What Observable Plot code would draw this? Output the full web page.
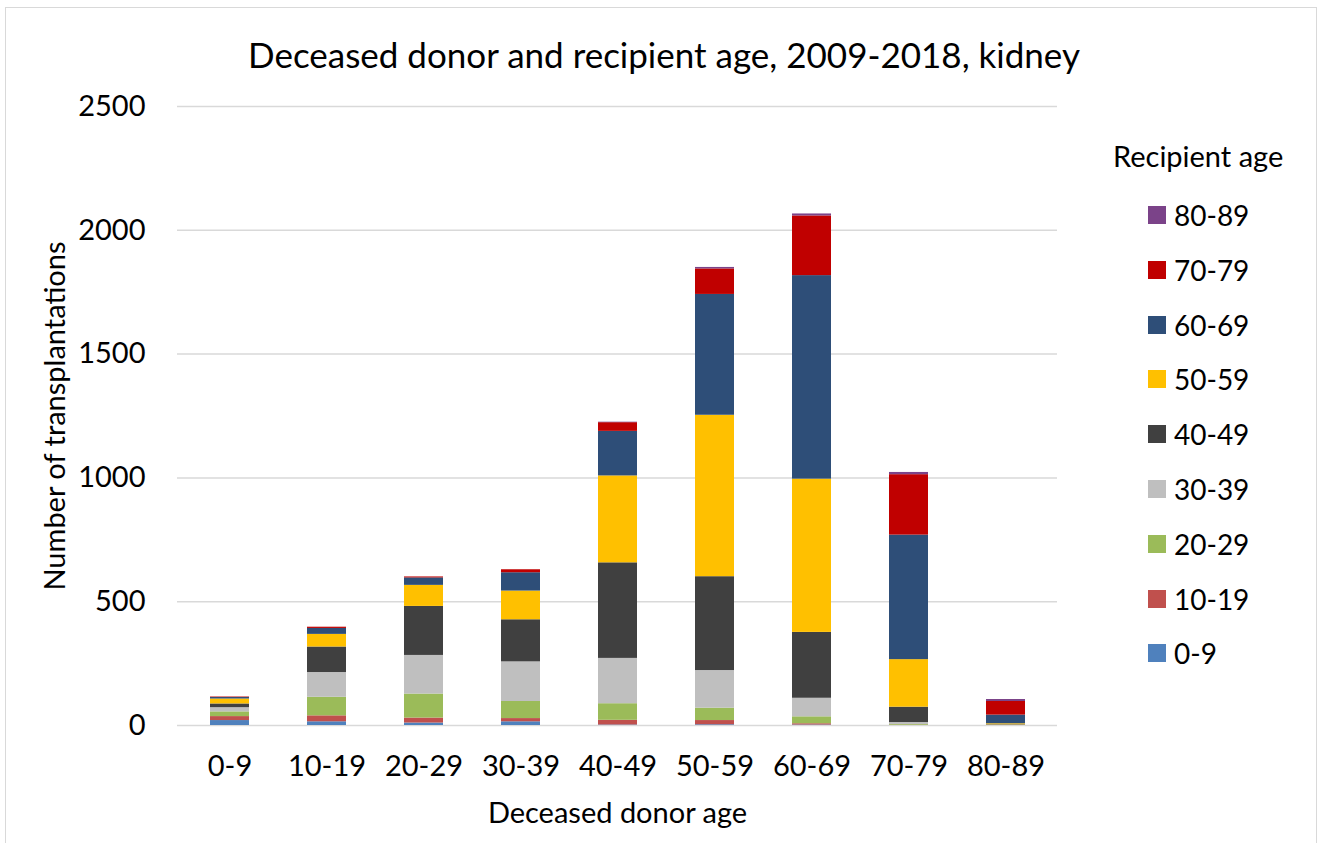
<!DOCTYPE html>
<html>
<head>
<meta charset="utf-8">
<script src="https://cdn.jsdelivr.net/npm/d3@7"></script>
<script src="https://cdn.jsdelivr.net/npm/@observablehq/plot@0.6"></script>
<style>
  html, body { margin: 0; padding: 0; background: #fff; }
  #wrap { position: relative; width: 1328px; height: 843px; font-family: Lato, "Open Sans", sans-serif; color: #000; }
  #frame { position: absolute; left: 5px; top: 7px; width: 1312px; height: 845px; border: 1.5px solid #d9d9d9; box-sizing: border-box; pointer-events: none; }
  #title { position: absolute; left: 0; width: 1328px; top: 34px; text-align: center; font-size: 35px; line-height: 40px; }
  #legend { position: absolute; left: 1100px; top: 138px; }
  #legend .lt { font-size: 29px; position: absolute; left: 13px; top: 0; white-space: nowrap; }
  #legend .item { position: absolute; left: 48px; font-size: 28px; white-space: nowrap; display: flex; align-items: center; height: 30px; }
  #legend .sw { width: 18px; height: 18px; margin-right: 8px; display: inline-block; }
  svg text { font-family: Lato, "Open Sans", sans-serif; }
</style>
</head>
<body>
<div id="wrap">
  <div id="frame"></div>
  <div id="title"></div>
  <div id="chart"></div>
  <div id="legend"></div>
</div>
<script>
const titleText = "Deceased donor and recipient age, 2009-2018, kidney";
const xLabel = "Deceased donor age";
const yLabel = "Number of transplantations";
const legendTitle = "Recipient age";

const donorAges = ["0-9", "10-19", "20-29", "30-39", "40-49", "50-59", "60-69", "70-79", "80-89"];
const recipientAges = ["0-9", "10-19", "20-29", "30-39", "40-49", "50-59", "60-69", "70-79", "80-89"];
const colors = ["#4F81BD", "#C0504D", "#9BBB59", "#BFBFBF", "#404040", "#FFC000", "#2E4E78", "#C00000", "#7B4389"];

// values per recipient age group, across donor age groups
const r0_9   = [20, 15, 10, 15, 2, 3, 2, 0, 0];
const r10_19 = [16, 24, 20, 13, 19, 17, 5, 1, 0];
const r20_29 = [19, 75, 97, 69, 67, 50, 28, 3, 0];
const r30_39 = [17, 100, 156, 160, 183, 152, 75, 8, 1];
const r40_49 = [15, 103, 198, 170, 386, 379, 266, 62, 2];
const r50_59 = [20, 51, 85, 116, 351, 652, 619, 192, 4];
const r60_69 = [6, 24, 30, 74, 180, 488, 822, 503, 35];
const r70_79 = [2, 5, 4, 12, 35, 103, 241, 244, 55];
const r80_89 = [0, 0, 0, 0, 2, 6, 8, 9, 8];

const yTicks = [0, 500, 1000, 1500, 2000, 2500];

const series = [r0_9, r10_19, r20_29, r30_39, r40_49, r50_59, r60_69, r70_79, r80_89];
const rows = [];
series.forEach((vals, i) => {
  vals.forEach((v, j) => rows.push({donor: donorAges[j], recipient: recipientAges[i], value: v}));
});

const chart = Plot.plot({
  width: 1328,
  height: 843,
  marginLeft: 177,
  marginRight: 271,
  marginTop: 106,
  marginBottom: 118,
  style: {fontFamily: "Lato, 'Open Sans', sans-serif", fontSize: "29px", color: "#000", background: "transparent", overflow: "visible"},
  x: {domain: donorAges, paddingInner: 0.6, paddingOuter: 0.3, label: null},
  y: {domain: [0, 2500], label: null},
  color: {domain: recipientAges, range: colors},
  marks: [
    Plot.gridY(yTicks, {stroke: "#d9d9d9", strokeOpacity: 1, strokeWidth: 1.5}),
    Plot.axisY(yTicks, {tickSize: 0, tickPadding: 32, fontSize: 29, label: null, tickFormat: d => String(d)}),
    Plot.axisX({tickSize: 0, tickPadding: 30, fontSize: 29, label: null}),
    Plot.barY(rows, {x: "donor", y: "value", fill: "recipient", order: recipientAges}),
    Plot.text([yLabel], {frameAnchor: "left", rotate: -90, dx: -122, textAnchor: "middle", fontSize: 29, text: d => d}),
    Plot.text([xLabel], {frameAnchor: "bottom", dy: 97, fontSize: 29, text: d => d})
  ]
});
document.getElementById("chart").appendChild(chart);

document.getElementById("title").textContent = titleText;
const leg = document.getElementById("legend");
const lt = document.createElement("div");
lt.className = "lt";
lt.textContent = legendTitle;
leg.appendChild(lt);
const order = recipientAges.slice().reverse();
order.forEach((r, k) => {
  const it = document.createElement("div");
  it.className = "item";
  it.style.top = (62 + k * 54.8) + "px";
  const sw = document.createElement("span");
  sw.className = "sw";
  sw.style.background = colors[recipientAges.indexOf(r)];
  it.appendChild(sw);
  it.appendChild(document.createTextNode(r));
  leg.appendChild(it);
});
</script>
</body>
</html>
